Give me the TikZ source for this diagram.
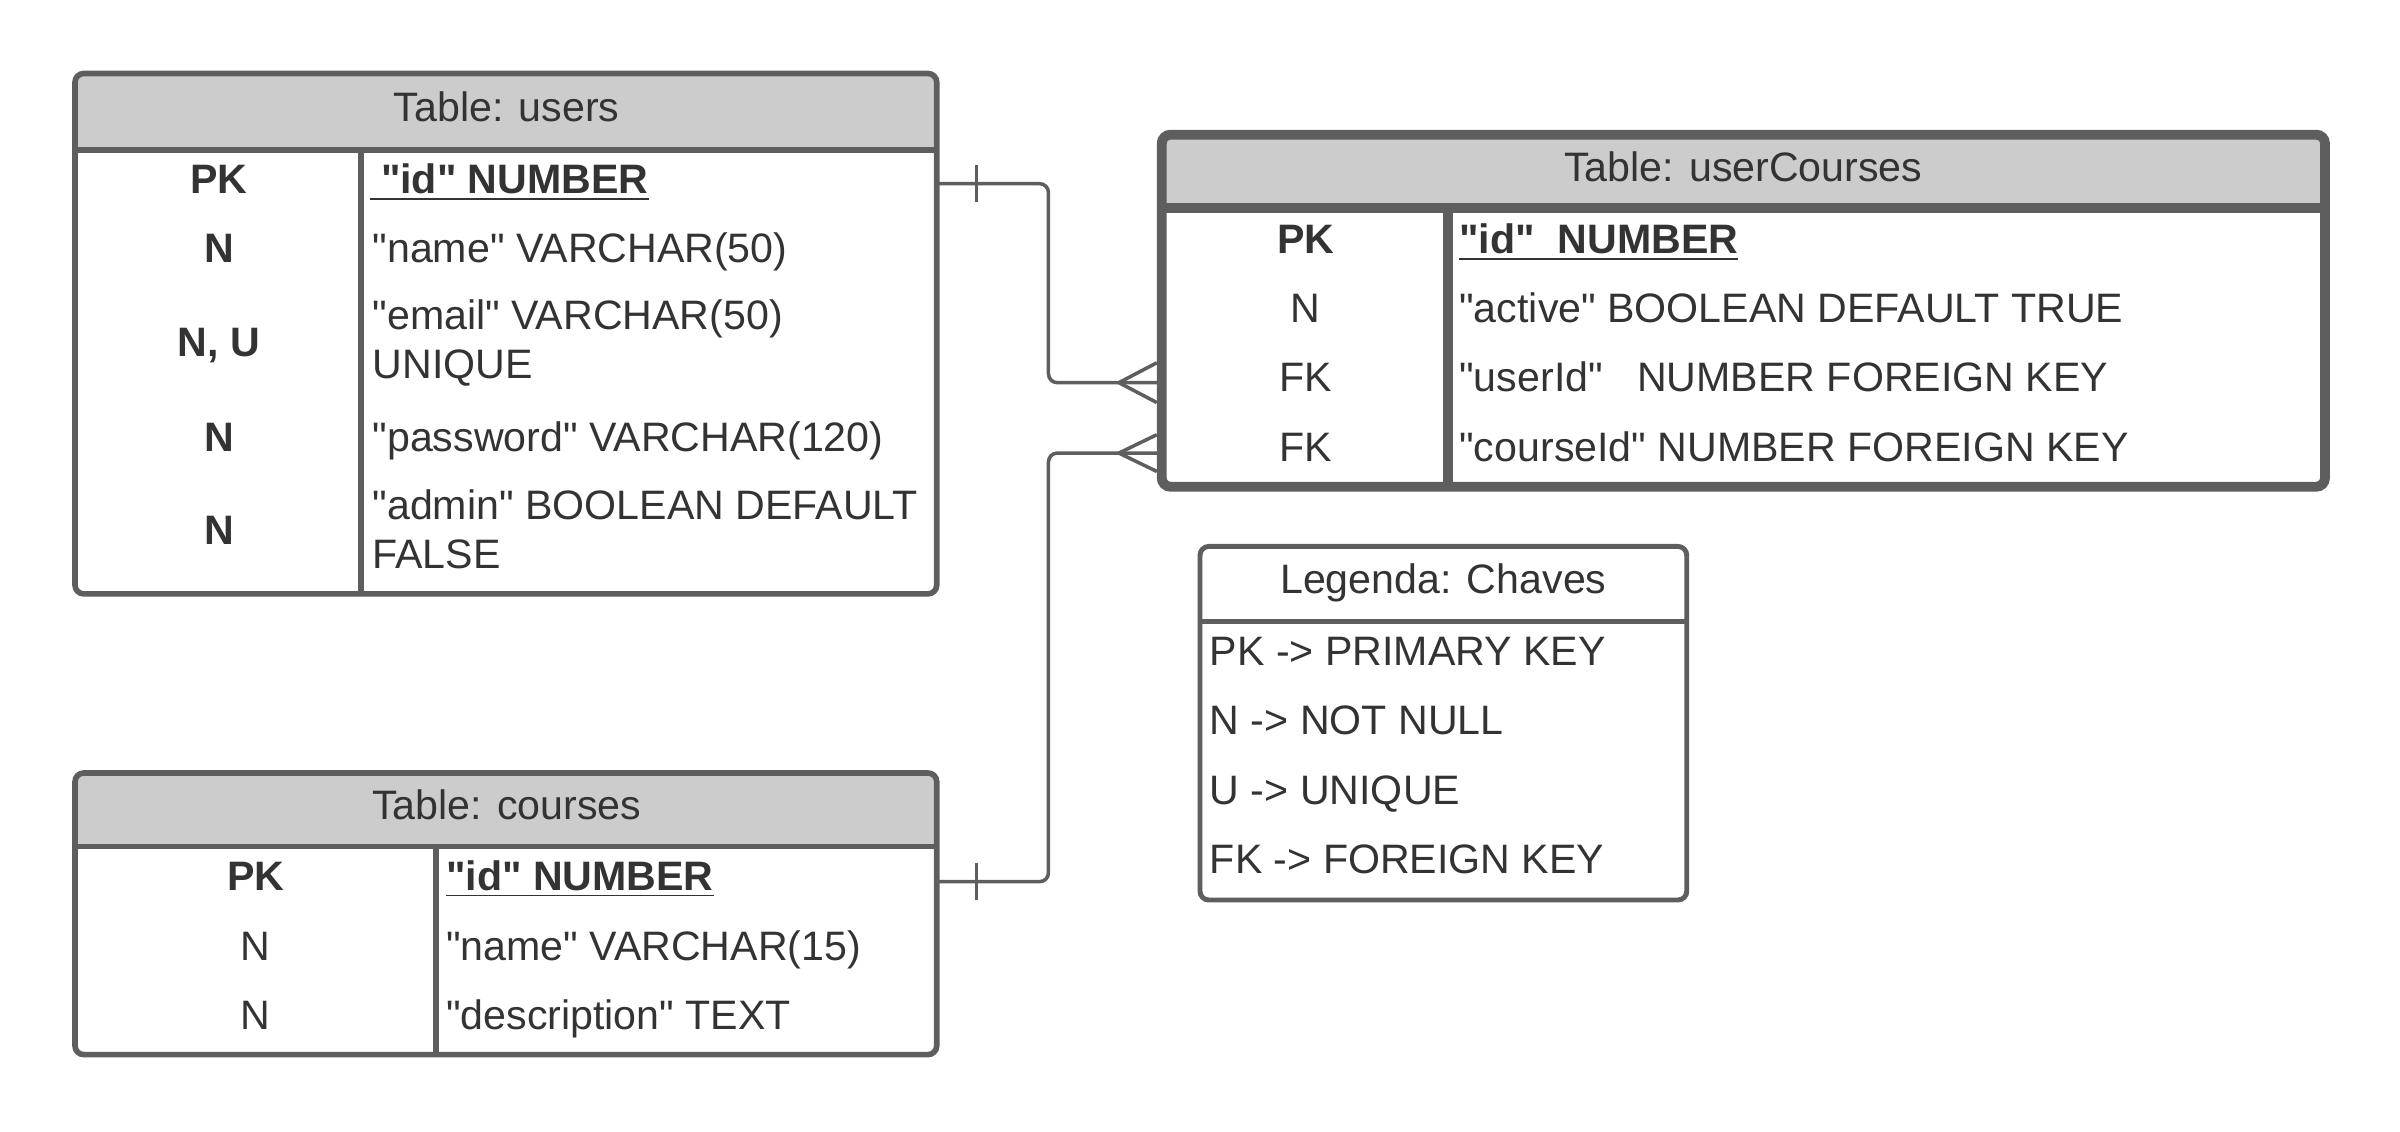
\documentclass[tikz,border=0pt]{standalone}
\usepackage{fontspec}
\setmainfont{Liberation Sans}[Ligatures=TeXOff]
\usetikzlibrary{positioning,fit}
\definecolor{linegray}{HTML}{5E5E5E}
\definecolor{headgray}{HTML}{CCCCCC}
\definecolor{textgray}{HTML}{333333}
\newcommand{\cellfont}{\fontsize{11.7}{14}\selectfont}
\tikzset{
	% Define style for table frames
	tablebox/.style={
		rectangle,
		rounded corners=2.5pt,
		draw=linegray, line width=1.6pt,
		inner sep=0pt},
	linkbox/.style={tablebox, line width=2.8pt},
	legendbox/.style={tablebox, line width=1.4pt},
	% inner lines of a table
	sepline/.style={draw=linegray, line width=1.6pt},
	% Define style for cells
	keycell/.style={
		font=\cellfont,
		text=textgray,
		text height=8.4pt,
		text depth=0pt,
		inner sep=0pt},
	boldcell/.style={keycell, font=\cellfont\bfseries},
	fieldcell/.style={keycell, anchor=west},
	twolines/.style={
		font=\cellfont,
		text=textgray,
		anchor=west,
		align=left,
		inner sep=0pt},
	% Define relation style
	rel/.style={
		draw=linegray,
		line width=1pt,
		rounded corners=2.5pt},
	crow/.style={draw=linegray, line width=1pt}
}

\begin{document}
\begin{tikzpicture}[x=0.153mm, y=-0.153mm]
		\useasboundingbox (0,0) rectangle (1568,739);
		%relations
		\draw[rel] (612,120) -| (685,250) -- (759,250);
		\draw[rel] (612,576) -| (685,296) -- (759,296);

		% users
		\begin{scope}
			\clip[rounded corners=2.5pt] (49,48) rectangle (612,388);
			\fill[headgray] (49,48) rectangle (612,98);
		\end{scope}
		\draw[sepline] (49,98) -- (612,98) (236,98) -- (236,388);
		\node[tablebox, fit={(49,48) (612,388)}] (users) {};
		\node[keycell] (usersTitle) at (331,70) {Table: users};
		\node[boldcell] (usersPK) at (143,117) {PK};
		\node[boldcell] (usersName) at (143,162) {N};
		\node[boldcell] (usersEmail) at (143,223) {N, U};
		\node[boldcell] (usersPassword) at (143,285) {N};
		\node[boldcell] (usersAdmin) at (143,346) {N};
		\node[fieldcell] (usersIdField) at (241,117) {\underline{\textbf{\ "id" NUMBER}}};
		\node[fieldcell] (usersNameField) at (243,162) {"name" VARCHAR(50)};
		\node[twolines] (usersEmailField) at (243,224) {"email" VARCHAR(50)\\UNIQUE};
		\node[fieldcell] (usersPasswordField) at (243,285) {"password" VARCHAR(120)};
		\node[twolines] (usersAdminField) at (243,346) {"admin" BOOLEAN DEFAULT\\FALSE};

		% courses
		\begin{scope}
			\clip[rounded corners=2.5pt] (49,505) rectangle (612,689);
			\fill[headgray] (49,505) rectangle (612,553);
		\end{scope}
		\draw[sepline] (49,553) -- (612,553) (285,553) -- (285,689);
		\node[tablebox, fit={(49,505) (612,689)}] (courses) {};
		\node[keycell] (coursesTitle) at (331,526) {Table: courses};
		\node[boldcell] (coursesPK) at (167,572) {PK};
		\node[keycell] (coursesName) at (167,618) {N};
		\node[keycell] (coursesDesc) at (167,663) {N};
		\node[fieldcell] (coursesIdField) at (291,572) {\underline{\textbf{"id" NUMBER}}};
		\node[fieldcell] (coursesNameField) at (291,618) {"name" VARCHAR(15)};
		\node[fieldcell] (coursesDescField) at (291,663) {"description" TEXT};

		% userCourses
		\begin{scope}
			\clip[rounded corners=2.5pt] (759,88) rectangle (1519,318);
			\fill[headgray] (759,88) rectangle (1519,136);
		\end{scope}
		\draw[sepline, line width=2.8pt] (759,136) -- (1519,136) (946,136) -- (946,318);
		\node[linkbox, fit={(759,88) (1519,318)}] (uc) {};
		\node[keycell] (ucTitle) at (1139,109) {Table: userCourses};
		\node[boldcell] (ucPK) at (853,156) {PK};
		\node[keycell] (ucActive) at (853,201) {N};
		\node[keycell] (ucUser) at (853,246) {FK};
		\node[keycell] (ucCourse) at (853,292) {FK};
		\node[fieldcell] (ucIdField) at (953,156) {\underline{\textbf{"id"\ \ NUMBER}}};
		\node[fieldcell] (ucActiveField) at (953,201) {"active" BOOLEAN DEFAULT TRUE};
		\node[fieldcell] (ucUserField) at (953,246) {"userId"\ \ \ NUMBER FOREIGN KEY};
		\node[fieldcell] (ucCourseField) at (953,292) {"courseId" NUMBER FOREIGN KEY};

		% legend
		\draw[sepline, line width=1.4pt] (784,406) -- (1102,406);
		\node[legendbox, fit={(784,357) (1102,588)}] (legend) {};
		\node[keycell] (legendTitle) at (943,378) {Legenda: Chaves};
		\foreach \y/\txt in {425/PK -> PRIMARY KEY, 470/N -> NOT NULL, 516/U -> UNIQUE, 561/FK -> FOREIGN KEY}
			\node[fieldcell] (legend\y) at (790,\y) {\txt};

		% one side marks
		\draw[crow] (638,108) -- (638,132);
		\draw[crow] (638,564) -- (638,588);
		% many side marks
		\draw[crow] (uc.west |- 0,237) -- (731,250) -- (uc.west |- 0,263);
		\draw[crow] (uc.west |- 0,284) -- (731,296) -- (uc.west |- 0,308);
\end{tikzpicture}
\end{document}
